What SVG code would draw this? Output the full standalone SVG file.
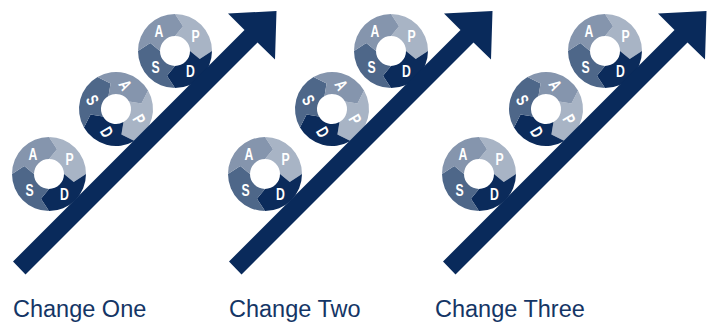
<svg xmlns="http://www.w3.org/2000/svg" xmlns:xlink="http://www.w3.org/1999/xlink" width="715" height="322" viewBox="0 0 715 322">
<style>
.sa{fill:#8595ad}
.sp{fill:#a8b4c5}
.sd{fill:#0b2b5b}
.ss{fill:#4e6789}
.lt{fill:#ffffff;font-family:"Liberation Sans",Arial,sans-serif;font-weight:bold;font-size:17px;text-anchor:middle}
.arrow{fill:#092a5b}
.cap{fill:#143565;font-family:"Liberation Sans",Arial,sans-serif;font-size:23.5px}
</style>
<defs>
<g id="wheel">
<path class="sp" d="M0,-37 A37,37 0 0 1 37,0 L24.73,8.03 L15,0 A15,15 0 0 0 0,-15 L8.03,-24.73 Z"/>
<path class="sd" d="M37,0 A37,37 0 0 1 0,37 L-8.03,24.73 L0,15 A15,15 0 0 0 15,0 L24.73,8.03 Z"/>
<path class="ss" d="M0,37 A37,37 0 0 1 -37,0 L-24.73,-8.03 L-15,0 A15,15 0 0 0 0,15 L-8.03,24.73 Z"/>
<path class="sa" d="M-37,0 A37,37 0 0 1 0,-37 L8.03,-24.73 L0,-15 A15,15 0 0 0 -15,0 L-24.73,-8.03 Z"/>
<text class="lt" transform="translate(-16,-14) scale(0.72,1)">A</text>
<text class="lt" transform="translate(20.5,-9) scale(0.72,1)">P</text>
<text class="lt" transform="translate(15.5,25.5) scale(0.72,1)">D</text>
<text class="lt" transform="translate(-19.5,22) scale(0.72,1)">S</text>
</g>
<polygon id="bigArrow" points="13,261.5 244.5,30 228,13.5 276.5,11 275,59.5 257.5,42.5 25.5,274.5"/>
</defs>

<g id="change-one">
<g id="c1-wheel1"><use xlink:href="#wheel" href="#wheel" transform="translate(49,174)"/></g>
<g id="c1-wheel2"><use xlink:href="#wheel" href="#wheel" transform="translate(116,109) rotate(60)"/></g>
<g id="c1-wheel3"><use xlink:href="#wheel" href="#wheel" transform="translate(175,51)"/></g>
<g id="c1-arrow"><use class="arrow" xlink:href="#bigArrow" href="#bigArrow"/></g>
<g id="c1-label"><text class="cap" x="13" y="316.5">Change One</text></g>
</g>

<g id="change-two" transform="translate(216,0)">
<g id="c2-wheel1"><use xlink:href="#wheel" href="#wheel" transform="translate(49,174)"/></g>
<g id="c2-wheel2"><use xlink:href="#wheel" href="#wheel" transform="translate(116,109) rotate(60)"/></g>
<g id="c2-wheel3"><use xlink:href="#wheel" href="#wheel" transform="translate(175,51)"/></g>
<g id="c2-arrow"><use class="arrow" xlink:href="#bigArrow" href="#bigArrow"/></g>
<g id="c2-label"><text class="cap" x="13" y="316.5">Change Two</text></g>
</g>

<g id="change-three" transform="translate(430,0)">
<g id="c3-wheel1"><use xlink:href="#wheel" href="#wheel" transform="translate(49,174)"/></g>
<g id="c3-wheel2"><use xlink:href="#wheel" href="#wheel" transform="translate(116,109) rotate(60)"/></g>
<g id="c3-wheel3"><use xlink:href="#wheel" href="#wheel" transform="translate(175,51)"/></g>
<g id="c3-arrow"><use class="arrow" xlink:href="#bigArrow" href="#bigArrow"/></g>
<g id="c3-label"><text class="cap" x="5" y="316.5">Change Three</text></g>
</g>
</svg>
